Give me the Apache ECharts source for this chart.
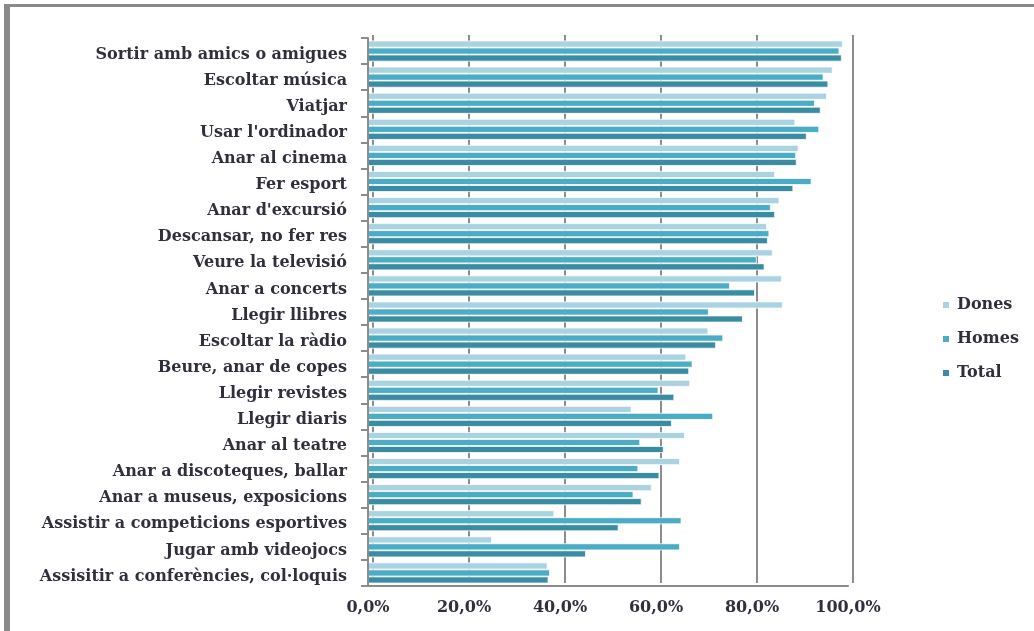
<!DOCTYPE html>
<html>
<head>
<meta charset="utf-8">
<script src="https://cdn.jsdelivr.net/npm/echarts@6/dist/echarts.min.js"></script>
<style>
  html, body { margin: 0; padding: 0; background: #ffffff; }
  #chart { width: 1034px; height: 631px; }
</style>
</head>
<body>
<div id="chart"></div>
<script>
// Activitats de lleure (% que les practiquen), per sexe
const categories = [
  "Sortir amb amics o amigues",
  "Escoltar música",
  "Viatjar",
  "Usar l'ordinador",
  "Anar al cinema",
  "Fer esport",
  "Anar d'excursió",
  "Descansar, no fer res",
  "Veure la televisió",
  "Anar a concerts",
  "Llegir llibres",
  "Escoltar la ràdio",
  "Beure, anar de copes",
  "Llegir revistes",
  "Llegir diaris",
  "Anar al teatre",
  "Anar a discoteques, ballar",
  "Anar a museus, exposicions",
  "Assistir a competicions esportives",
  "Jugar amb videojocs",
  "Assisitir a conferències, col·loquis"
];

const dones = [98.9, 96.8, 95.6, 89.0, 89.7, 84.8, 85.7, 83.1, 84.3, 86.2, 86.4,
               70.9, 66.3, 67.1, 54.9, 66.0, 65.0, 59.1, 38.8, 25.8, 37.4];
const homes = [98.2, 94.9, 93.1, 94.0, 89.2, 92.4, 83.9, 83.6, 81.0, 75.4, 71.0,
               74.0, 67.6, 60.5, 71.9, 56.7, 56.3, 55.3, 65.3, 65.0, 37.9];
const total = [98.7, 95.9, 94.3, 91.4, 89.3, 88.6, 84.8, 83.3, 82.6, 80.6, 78.1,
               72.5, 66.9, 63.8, 63.3, 61.6, 60.7, 57.0, 52.2, 45.4, 37.6];

const xTicks = [0, 20, 40, 60, 80, 100];
const fmtPct = v => v.toFixed(1).replace('.', ',') + '%';

const FONT = 'DejaVu Serif';
const TEXT = '#30303c';
const GRID_GREY = '#8c8c8c';

const chart = echarts.init(document.getElementById('chart'), null, { renderer: 'canvas' });

const barSeries = (name, data, color) => ({
  name: name,
  type: 'bar',
  xAxisIndex: 0,
  yAxisIndex: 0,
  data: data,
  barWidth: 7,
  barGap: '0%',
  itemStyle: { color: color, borderColor: '#ffffff', borderWidth: 0.8 },
  z: 3
});

chart.setOption({
  animation: false,
  backgroundColor: '#ffffff',
  textStyle: { fontFamily: FONT },
  graphic: [
    { type: 'rect', shape: { x: 4, y: 4, width: 6, height: 640 }, style: { fill: '#8a8a8a' } },
    { type: 'rect', shape: { x: 4, y: 4, width: 1040, height: 3 }, style: { fill: '#8a8a8a' } }
  ],
  legend: {
    orient: 'vertical',
    left: 936,
    top: 292,
    itemWidth: 8,
    itemHeight: 8,
    itemGap: 18,
    icon: 'rect',
    textStyle: { fontFamily: FONT, fontSize: 16, fontWeight: 'bold', color: TEXT, padding: [0, 0, 0, 2] },
    data: ['Dones', 'Homes', 'Total']
  },
  grid: [
    { left: 368, right: 186, top: 38, bottom: 45 },
    { left: 373, right: 181, top: 35, bottom: 48 }
  ],
  xAxis: [
    {
      gridIndex: 0,
      type: 'value',
      min: 0,
      max: 100,
      interval: 20,
      axisLine: { show: true, lineStyle: { color: GRID_GREY, width: 2 } },
      axisTick: { show: false },
      splitLine: { show: false },
      axisLabel: {
        fontFamily: FONT,
        fontSize: 16,
        fontWeight: 'bold',
        color: TEXT,
        margin: 14,
        formatter: v => xTicks.includes(v) ? fmtPct(v) : ''
      }
    },
    {
      gridIndex: 1,
      type: 'value',
      min: 0,
      max: 100,
      interval: 20,
      axisLine: { show: false },
      axisTick: { show: false },
      axisLabel: { show: false },
      splitLine: { show: true, lineStyle: { color: GRID_GREY, width: 2 } }
    }
  ],
  yAxis: [
    {
      gridIndex: 0,
      type: 'category',
      inverse: true,
      data: categories,
      axisLine: { show: true, lineStyle: { color: GRID_GREY, width: 2 } },
      axisTick: { show: true, length: 7, lineStyle: { color: GRID_GREY, width: 2 } },
      axisLabel: {
        fontFamily: FONT, fontSize: 16, fontWeight: 'bold', color: TEXT,
        margin: 21, verticalAlign: 'top', lineHeight: 7
      },
      z: 4
    },
    {
      gridIndex: 1,
      type: 'category',
      inverse: true,
      data: categories,
      show: false
    }
  ],
  series: [
    barSeries('Dones', dones, '#a9d3e1'),
    barSeries('Homes', homes, '#4bacc6'),
    barSeries('Total', total, '#3a8ca3')
  ]
});
</script>
</body>
</html>
